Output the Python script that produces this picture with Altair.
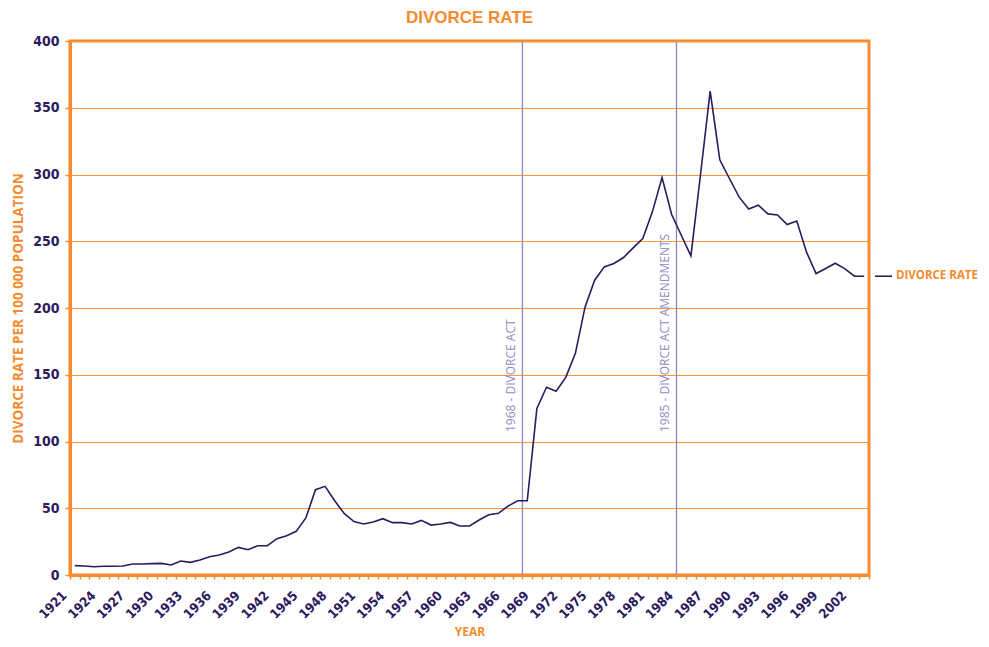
import altair as alt
import pandas as pd

# ---- data ----
years = list(range(1921, 2004))
rates = [
    7.0, 6.7, 6.2, 6.5, 6.5, 6.7, 8.2, 8.2, 8.5, 8.7,            # 1921-1930
    7.5, 10.5, 9.5, 11.2, 13.7, 15.0, 17.2, 20.7, 18.9, 21.9,   # 1931-1940
    21.9, 27.2, 29.4, 32.7, 42.7, 63.9, 66.4, 55.6, 45.9, 40.0, # 1941-1950
    38.2, 39.7, 42.2, 39.2, 39.2, 38.2, 40.9, 37.4, 38.2, 39.4, # 1951-1960
    36.7, 36.7, 41.2, 45.1, 46.2, 51.6, 55.6, 55.6, 124.8, 140.7,  # 1961-1970
    137.7, 148.0, 166.0, 200.6, 220.8, 230.8, 233.3, 237.8, 245.0, 252.0,  # 1971-1980
    272.0, 297.7, 270.0, 254.5, 239.0, 300.0, 362.5, 311.0, 297.0, 283.2,  # 1981-1990
    274.2, 277.0, 270.5, 269.7, 262.5, 265.2, 242.0, 225.8, 229.6, 233.5,  # 1991-2000
    229.3, 223.8, 223.8,                                        # 2001-2003
]
event_years = [1967.5, 1983.5]
event_labels = ["1968 - DIVORCE ACT", "1985 - DIVORCE ACT AMENDMENTS"]
series_name = "DIVORCE RATE"
y_ticks = [0, 50, 100, 150, 200, 250, 300, 350, 400]
x_boundaries = [y - 0.5 for y in range(1921, 2005)]

ORANGE = "#f58a2e"
GRID = "#f7953f"
PURPLE = "#2b1a5e"
LAV = "#9189c5"
LABEL_FONT = "DejaVu Sans Condensed"
TITLE_FONT = "Open Sans"
MAIN_TITLE_FONT = "Liberation Sans"

df = pd.DataFrame({"year": years, "rate": rates})
ev = pd.DataFrame({"year": event_years, "label": event_labels})
last = df.tail(1).assign(name=series_name)

W, H = 799, 534

x_scale = alt.Scale(domain=[1920.5, 2003.5], nice=False, zero=False)
y_scale = alt.Scale(domain=[0, 400], nice=False, zero=True)

x_axis = alt.Axis(
    values=x_boundaries,
    labelExpr="(datum.value + 0.5 - 1921) % 3 == 0 ? toString(datum.value + 0.5) : ''",
    labelAngle=315, labelAlign="right", labelBaseline="top",
    labelPadding=10, labelOffset=-10, labelFlush=False, labelOverlap=False, labelBound=False,
    labelFont=LABEL_FONT, labelFontSize=13, labelFontWeight="bold", labelColor=PURPLE,
    tickColor=ORANGE, tickSize=4, tickWidth=1.5,
    domainColor=ORANGE, domainWidth=3, grid=False,
    title="YEAR", titleColor=ORANGE, titleFont=TITLE_FONT, titleFontSize=12,
    titleFontWeight="bold", titleX=W / 2, titleY=56, titleAlign="center", titleBaseline="middle",
)
y_axis = alt.Axis(
    values=y_ticks,
    labelFont=LABEL_FONT, labelFontSize=14, labelFontWeight="bold", labelColor=PURPLE,
    labelPadding=6,
    tickColor=ORANGE, tickSize=5, tickWidth=1.5,
    domainColor=ORANGE, domainWidth=3,
    grid=True, gridColor=GRID, gridWidth=1,
    title="DIVORCE RATE PER 100 000 POPULATION", titleColor=ORANGE, titleFont=TITLE_FONT,
    titleFontSize=13.5, titleFontWeight="bold", titleAngle=270, titleX=-52, titleY=H / 2,
    titleAlign="center", titleBaseline="middle",
)

x_enc = alt.X("year:Q", scale=x_scale, axis=x_axis)
y_enc = alt.Y("rate:Q", scale=y_scale, axis=y_axis)

line = alt.Chart(df).mark_line(color=PURPLE, strokeWidth=1.6).encode(x=x_enc, y=y_enc)

rules = alt.Chart(ev).mark_rule(color=LAV, strokeWidth=1.3).encode(x=x_enc)

texts = alt.Chart(ev).mark_text(
    angle=270, align="left", baseline="alphabetic", dy=-7,
    color=LAV, font=TITLE_FONT, fontSize=12,
).encode(x=x_enc, y=alt.value(391), text="label:N")

leg_rule = alt.Chart(last).mark_rule(color=PURPLE, strokeWidth=1.6).encode(
    x=alt.value(W + 6), x2=alt.value(W + 23), y=y_enc
)
leg_text = alt.Chart(last).mark_text(
    align="left", baseline="middle", color=ORANGE, font=TITLE_FONT,
    fontWeight="bold", fontSize=11.5,
).encode(x=alt.value(W + 27), y=y_enc, text="name:N")

chart = alt.layer(rules, texts, line, leg_rule, leg_text).properties(
    width=W, height=H,
    title=alt.TitleParams(series_name, color=ORANGE, font=MAIN_TITLE_FONT, fontSize=17,
                          fontWeight="bold", anchor="middle", offset=7),
    padding={"left": 62, "top": 33, "right": 112, "bottom": 64},
    autosize=alt.AutoSizeParams(type="none"),
    background="white",
).configure_view(stroke=ORANGE, strokeWidth=3)

chart.save("out.html", embed_options={"renderer": "svg", "actions": False})
